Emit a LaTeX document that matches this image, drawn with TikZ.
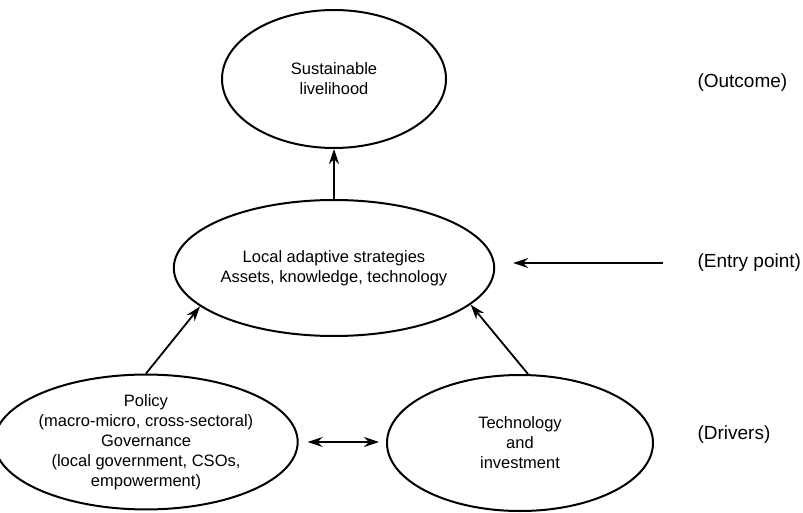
\documentclass[tikz,border=0pt]{standalone}
\usepackage{fontspec}
\setmainfont{Liberation Sans}
\usetikzlibrary{shapes.geometric,arrows.meta}
\begin{document}
\begin{tikzpicture}[x=1pt,y=1pt]
  \tikzstyle{aim}=[ellipse,draw=black,line width=2pt,inner sep=0pt,align=center,minimum width=266pt,minimum height=136pt,font=\fontsize{16.5}{20}\selectfont]
  \tikzstyle{tier}=[anchor=west,font=\fontsize{19}{23}\selectfont]
  \tikzstyle{edge}=[line width=1.8pt,-{Stealth[length=15pt,width=10pt,inset=5pt]}]
  \useasboundingbox (0,0) rectangle (803,512);
  \node [aim,minimum width=224pt,minimum height=138pt] (outcome) at (334,433) {Sustainable\\livelihood};
  \node [aim,minimum width=268pt] (local) at (334,244) {Local adaptive strategies\\Assets, knowledge, technology};
  \node [aim,minimum height=134pt] (policy) at (146,70) {Policy\\(macro-micro, cross-sectoral)\\Governance\\(local government, CSOs,\\empowerment)};
  \node [aim] (techinv) at (520,69) {Technology\\and\\investment};
  \node [tier] (outlbl) at (694,429) {(Outcome)};
  \node [tier] (entrylbl) at (694,249) {(Entry point)};
  \node [tier] (drivlbl) at (694,77) {(Drivers)};
  \coordinate (entry) at (663,249);
  \draw[edge] (local) -- (outcome);
  \draw[edge,shorten >=18pt] (entry) -- (local.east |- entry);
  \draw[edge] (policy.north) -- (local.196);
  \draw[edge] ([xshift=8pt]techinv.north) -- (local.345);
  \draw[edge,{Stealth[length=15pt,width=10pt,inset=5pt]}-{Stealth[length=15pt,width=10pt,inset=5pt]},shorten <=9pt,shorten >=7pt] (policy.east) -- ([yshift=1pt]techinv.west);
\end{tikzpicture}
\end{document}
